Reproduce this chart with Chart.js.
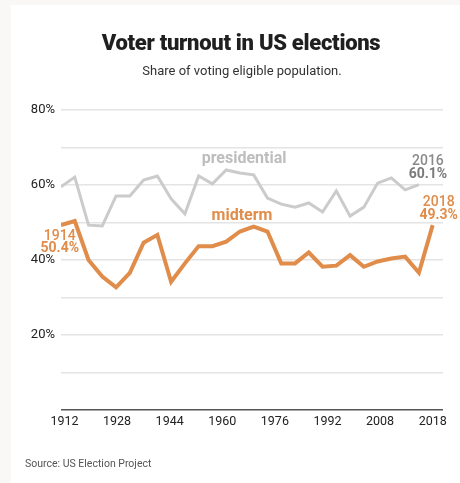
<!DOCTYPE html>
<html>
<head>
<meta charset="utf-8">
<script src="https://cdn.jsdelivr.net/npm/chart.js@4/dist/chart.umd.min.js"></script>
<style>
  html, body { margin: 0; padding: 0; background: #ffffff; }
  body { width: 460px; height: 483px; position: relative; overflow: hidden; font-family: Roboto, "Noto Sans", sans-serif; }
  #stripL { position: absolute; left: 0; top: 0; width: 11px; height: 483px; background: #f9f8f6; }
  #stripT { position: absolute; left: 0; top: 0; width: 460px; height: 5px; background: #f9f8f6; }
  #c { position: absolute; left: 0; top: 0; }
  .txt { position: absolute; white-space: nowrap; }
  #title { left: 0; width: 482px; text-align: center; top: 30px; font-size: 22px; line-height: 26px; font-weight: 900; color: #1f1f1f; letter-spacing: -0.3px; }
  #subtitle { left: 0; width: 484px; text-align: center; top: 63px; font-size: 13px; line-height: 16px; color: #333; }
  #source { left: 25px; top: 457px; font-size: 10.5px; line-height: 14px; color: #555; }
</style>
</head>
<body>
<div id="stripL"></div>
<div id="stripT"></div>
<canvas id="c" width="460" height="483"></canvas>
<div class="txt" id="title">Voter turnout in US elections</div>
<div class="txt" id="subtitle">Share of voting eligible population.</div>
<div class="txt" id="source">Source: US Election Project</div>
<script>
const presYears = [1912,1916,1920,1924,1928,1932,1936,1940,1944,1948,1952,1956,1960,1964,1968,1972,1976,1980,1984,1988,1992,1996,2000,2004,2008,2012,2016];
const presValues = [59.5,62.1,49.3,49.1,57.1,57.1,61.3,62.4,56.3,52.3,62.4,60.3,64.0,63.2,62.7,56.5,54.9,54.1,55.2,52.8,58.4,51.7,54.1,60.5,61.9,58.7,60.1];
const midYears = [1910,1914,1918,1922,1926,1930,1934,1938,1942,1946,1950,1954,1958,1962,1966,1970,1974,1978,1982,1986,1990,1994,1998,2002,2006,2010,2014,2018];
const midValues = [49.3,50.4,40.0,35.6,32.7,36.6,44.6,46.7,34.2,39.1,43.7,43.7,44.9,47.6,48.9,47.6,39.1,39.1,42.0,38.2,38.5,41.3,38.2,39.6,40.4,40.9,36.6,49.3];
const xTickLabels = ['1912','1928','1944','1960','1976','1992','2008','2018'];
const yTickValues = [0,10,20,30,40,50,60,70,80];

// the reference draws each midterm one slot (2 years) to the right
const MID_SHIFT = 2;
const X_MIN = 1912, X_MAX = 2023;
const TICK_FIRST = 1913, TICK_LAST = 2020;

const GRAY = '#cbcbcb';
const ORANGE = '#e08c4a';

const annot = {
  id: 'annot',
  afterDatasetsDraw(chart) {
    const ctx = chart.ctx;
    const xs = chart.scales.x, ys = chart.scales.y;
    const pm = chart.getDatasetMeta(0).data;
    const mm = chart.getDatasetMeta(1).data;
    ctx.save();
    ctx.textBaseline = 'middle';
    ctx.textAlign = 'center';
    ctx.font = '700 16px Roboto';
    ctx.fillStyle = '#bdbdbd';
    ctx.fillText('presidential', xs.getPixelForValue(1965.2), ys.getPixelForValue(66.9));
    ctx.fillStyle = ORANGE;
    ctx.fillText('midterm', xs.getPixelForValue(1964.6), ys.getPixelForValue(51.7));
    const pl = pm[pm.length - 1], pi = presYears.length - 1;
    ctx.font = '500 14px Roboto';
    ctx.fillStyle = '#8a8a8a';
    ctx.fillText(String(presYears[pi]), pl.x + 9, pl.y - 23);
    ctx.font = '700 14px Roboto';
    ctx.fillStyle = '#7a7a7a';
    ctx.fillText(presValues[pi].toFixed(1) + '%', pl.x + 9, pl.y - 10);
    const ml = mm[mm.length - 1], mi = midYears.length - 1;
    ctx.font = '500 14px Roboto';
    ctx.fillStyle = ORANGE;
    ctx.fillText(String(midYears[mi]), ml.x + 6, ml.y - 23);
    ctx.font = '700 14px Roboto';
    ctx.fillText(midValues[mi].toFixed(1) + '%', ml.x + 6, ml.y - 10);
    const mf = mm[1];
    ctx.font = '500 14px Roboto';
    ctx.fillText(String(midYears[1]), mf.x - 15, mf.y + 15);
    ctx.font = '700 14px Roboto';
    ctx.fillText(midValues[1].toFixed(1) + '%', mf.x - 15, mf.y + 27);
    ctx.restore();
  }
};

new Chart(document.getElementById('c'), {
  type: 'line',
  data: {
    datasets: [
      {
        label: 'presidential',
        data: presYears.map((y, i) => ({ x: y, y: presValues[i] })),
        borderColor: GRAY, borderWidth: 3, pointRadius: 0, tension: 0, fill: false
      },
      {
        label: 'midterm',
        data: midYears.map((y, i) => ({ x: y + MID_SHIFT, y: midValues[i] })),
        borderColor: ORANGE, borderWidth: 4, pointRadius: 0, tension: 0, fill: false
      }
    ]
  },
  plugins: [annot],
  options: {
    responsive: false,
    devicePixelRatio: 1,
    animation: false,
    layout: { padding: { left: 0, right: 17, top: 110, bottom: 0 } },
    plugins: { legend: { display: false }, tooltip: { enabled: false }, title: { display: false } },
    scales: {
      x: {
        type: 'linear', min: X_MIN, max: X_MAX,
        afterBuildTicks(scale) {
          const n = xTickLabels.length;
          scale.ticks = xTickLabels.map((l, i) => ({ value: TICK_FIRST + i * (TICK_LAST - TICK_FIRST) / (n - 1) }));
        },
        afterFit(scale) { scale.height = 73; },
        grid: { display: false, drawTicks: false },
        border: { display: false },
        ticks: {
          autoSkip: false, maxRotation: 0, padding: 4,
          font: { family: 'Roboto', size: 12.5 }, color: '#222',
          callback: (v, i) => xTickLabels[i]
        }
      },
      y: {
        min: 0, max: 80,
        afterBuildTicks(scale) { scale.ticks = yTickValues.map(v => ({ value: v })); },
        afterFit(scale) { scale.width = 61; },
        grid: {
          drawTicks: false,
          lineWidth: 1.5,
          color: c => (c.tick && c.tick.value === 0) ? '#555555' : '#e4e4e4'
        },
        border: { display: false },
        ticks: {
          padding: 6,
          font: { family: 'Roboto', size: 13 }, color: '#222',
          callback: v => (v > 0 && v % 20 === 0) ? v + '%' : ''
        }
      }
    }
  }
});
</script>
</body>
</html>
